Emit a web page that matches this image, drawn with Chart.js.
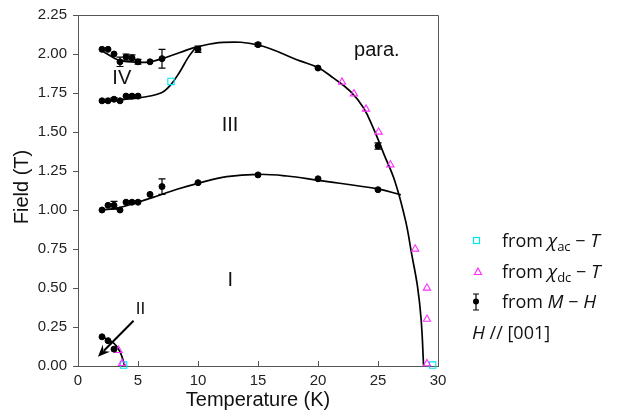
<!DOCTYPE html>
<html><head><meta charset="utf-8">
<script src="https://cdn.jsdelivr.net/npm/chart.js@4/dist/chart.umd.min.js"></script>
<style>html,body{margin:0;padding:0;background:#fff;}canvas{display:block;}</style>
</head><body>
<canvas id="c" width="626" height="416"></canvas>
<script>
// ---- data (Temperature K, Field T) ----
// from M-H (black dots, with error bars)
const mhT   = [2.0, 2.5, 3.0, 3.5, 4.0, 4.5, 5.0, 6.0, 7.0, 10, 15, 20, 25,
               2.0, 2.5, 3.0, 3.5, 4.0, 4.5, 5.0,
               2.0, 2.5, 3.0, 3.5, 4.0, 4.5, 5.0, 6.0, 7.0, 10, 15, 20, 25,
               2.0, 2.5, 3.0];
const mhH   = [2.03, 2.03, 2.00, 1.95, 1.98, 1.975, 1.95, 1.95, 1.97, 2.03, 2.06, 1.91, 1.41,
               1.70, 1.70, 1.71, 1.70, 1.73, 1.73, 1.73,
               1.00, 1.03, 1.03, 1.00, 1.05, 1.05, 1.05, 1.10, 1.15, 1.175, 1.225, 1.20, 1.13,
               0.187, 0.162, 0.108];
const mhErr = [0, 0, 0, 0.03, 0.02, 0.02, 0.015, 0, 0.06, 0.02, 0.01, 0, 0.02,
               0, 0, 0.01, 0, 0, 0, 0,
               0, 0, 0.025, 0, 0, 0, 0, 0, 0.05, 0, 0, 0, 0,
               0, 0, 0];
// from chi_dc - T (magenta triangles)
const dcT = [3.38, 3.67, 22.0, 23.0, 24.0, 25.05, 26.03, 28.1, 29.08, 29.08, 29.08];
const dcH = [0.10, 0.017, 1.82, 1.745, 1.647, 1.50, 1.29, 0.75, 0.50, 0.30, 0.015];
// from chi_ac - T (cyan squares)
const acT = [3.8, 7.75, 29.55];
const acH = [0.006, 1.824, 0.006];
// phase boundaries
const upT = [2.0, 3.0, 3.5, 4.9, 6.0, 7.0, 8.5, 10, 12.1, 15, 18.5, 20, 21.3, 22.7, 23.8, 24.6, 25.5, 26.4, 27.3, 27.8, 28.3, 28.6, 28.8];
const upH = [2.02, 1.975, 1.957, 1.947, 1.95, 1.97, 2.01, 2.047, 2.075, 2.058, 1.956, 1.913, 1.845, 1.76, 1.654, 1.526, 1.357, 1.186, 0.93, 0.72, 0.506, 0.293, 0.0];
const midT = [2.0, 3.25, 4.9, 6.6, 8.25, 10, 12.4, 15, 17.4, 20, 25, 26.9];
const midH = [1.0, 1.012, 1.048, 1.09, 1.133, 1.171, 1.214, 1.229, 1.218, 1.19, 1.135, 1.097];
const lowT = [2.0, 4.9, 6.9, 7.7, 8.5, 9.2, 9.86];
const lowH = [1.70, 1.717, 1.75, 1.80, 1.888, 1.98, 2.047];
const iiT = [2.0, 3.0, 3.5, 3.8, 3.87];
const iiH = [0.187, 0.145, 0.091, 0.027, 0.0];
// arrow pointing into phase II (tail -> head)
const arrowT = [4.63, 1.66];
const arrowH = [0.29, 0.06];
// region labels
const regionText = ['IV', 'III', 'I', 'II', 'para.'];
const regionT = [3.65, 12.67, 12.7, 5.2, 24.9];
const regionH = [1.843, 1.54, 0.548, 0.364, 2.02];
const regionSize = [20, 20, 20, 17, 20];

const pts = (xs, ys) => xs.map((x, i) => ({x: x, y: ys[i]}));
const AXIS = '#555';
const SANS = '"Liberation Sans", Arial, sans-serif';
const CYAN = '#00e4f4';
const MAG = '#ff30ff';

const curve = (xs, ys) => ({
  type: 'scatter', data: pts(xs, ys), showLine: true, tension: 0.4,
  borderColor: '#000', borderWidth: 1.7, pointRadius: 0, order: 5, clip: false
});

const extras = {
  id: 'extras',
  afterDatasetsDraw(chart) {
    const ctx = chart.ctx, xs = chart.scales.x, ys = chart.scales.y, a = chart.chartArea;
    ctx.save();
    // error bars
    ctx.strokeStyle = '#000'; ctx.lineWidth = 1.2;
    mhT.forEach((t, i) => {
      const e = mhErr[i]; if (!e) return;
      const px = xs.getPixelForValue(t);
      const y1 = ys.getPixelForValue(mhH[i] + e), y2 = ys.getPixelForValue(mhH[i] - e);
      ctx.beginPath();
      ctx.moveTo(px, y1); ctx.lineTo(px, y2);
      ctx.moveTo(px - 3.5, y1); ctx.lineTo(px + 3.5, y1);
      ctx.moveTo(px - 3.5, y2); ctx.lineTo(px + 3.5, y2);
      ctx.stroke();
    });
    // arrow
    const ax0 = xs.getPixelForValue(arrowT[0]), ay0 = ys.getPixelForValue(arrowH[0]);
    const ax1 = xs.getPixelForValue(arrowT[1]), ay1 = ys.getPixelForValue(arrowH[1]);
    const ang = Math.atan2(ay1 - ay0, ax1 - ax0);
    const hl = 12, hw = 5;
    const c = Math.cos(ang), s = Math.sin(ang);
    ctx.lineWidth = 2;
    ctx.beginPath(); ctx.moveTo(ax0, ay0);
    ctx.lineTo(ax1 - c * hl * 0.7, ay1 - s * hl * 0.7); ctx.stroke();
    ctx.beginPath();
    ctx.moveTo(ax1, ay1);
    ctx.lineTo(ax1 - c * hl - s * hw, ay1 - s * hl + c * hw);
    ctx.lineTo(ax1 - c * hl * 0.65, ay1 - s * hl * 0.65);
    ctx.lineTo(ax1 - c * hl + s * hw, ay1 - s * hl - c * hw);
    ctx.closePath(); ctx.fillStyle = '#000'; ctx.fill();
    // region labels
    ctx.fillStyle = '#111'; ctx.textAlign = 'center'; ctx.textBaseline = 'middle';
    regionText.forEach((t, i) => {
      ctx.font = regionSize[i] + 'px ' + SANS;
      ctx.fillText(t, xs.getPixelForValue(regionT[i]), ys.getPixelForValue(regionH[i]));
    });
    // box: top and right borders, inward x ticks
    ctx.strokeStyle = AXIS; ctx.lineWidth = 1;
    ctx.beginPath();
    ctx.moveTo(a.left, a.top + 0.5); ctx.lineTo(a.right + 0.5, a.top + 0.5);
    ctx.lineTo(a.right + 0.5, a.bottom);
    xs.ticks.forEach(tk => {
      const px = Math.round(xs.getPixelForValue(tk.value)) + 0.5;
      ctx.moveTo(px, a.bottom); ctx.lineTo(px, a.bottom - 5);
    });
    ctx.stroke();
    // axis titles
    ctx.fillStyle = '#111'; ctx.font = '20px ' + SANS;
    ctx.textAlign = 'center'; ctx.textBaseline = 'middle';
    ctx.fillText('Temperature (K)', (a.left + a.right) / 2, 400);
    ctx.save(); ctx.translate(22, 187); ctx.rotate(-Math.PI / 2);
    ctx.fillText('Field (T)', 0, 0); ctx.restore();
    // legend
    const LF = '"Open Sans", "Noto Sans", sans-serif';
    ctx.textAlign = 'left'; ctx.textBaseline = 'alphabetic'; ctx.fillStyle = '#111';
    const seg = (parts, x, y) => {
      parts.forEach(p => {
        ctx.font = p[1];
        ctx.fillText(p[0], x, y + (p[2] || 0));
        x += ctx.measureText(p[0]).width;
      });
    };
    const R = '18px ' + LF, I = 'italic 19px ' + LF, SUB = '13px ' + LF;
    // square
    ctx.strokeStyle = CYAN; ctx.lineWidth = 1.2;
    ctx.strokeRect(473.5, 237.5, 6, 6);
    seg([['from ', R], ['\u03C7', I], ['ac', SUB, 4], [' \u2212 ', R], ['T', I]], 502, 247);
    // triangle
    ctx.strokeStyle = MAG; ctx.beginPath();
    ctx.moveTo(478, 268); ctx.lineTo(481.5, 274.5); ctx.lineTo(474.5, 274.5); ctx.closePath(); ctx.stroke();
    seg([['from ', R], ['\u03C7', I], ['dc', SUB, 4], [' \u2212 ', R], ['T', I]], 502, 278);
    // error bar dot
    ctx.strokeStyle = '#000'; ctx.lineWidth = 1.2; ctx.beginPath();
    ctx.moveTo(476, 294); ctx.lineTo(476, 310);
    ctx.moveTo(473, 294); ctx.lineTo(479, 294);
    ctx.moveTo(473, 310); ctx.lineTo(479, 310); ctx.stroke();
    ctx.beginPath(); ctx.arc(476, 301.5, 3, 0, Math.PI * 2); ctx.fillStyle = '#000'; ctx.fill();
    ctx.fillStyle = '#111';
    seg([['from ', R], ['M', I], [' \u2212 ', R], ['H', I]], 502, 308);
    seg([['H', I], [' // [001]', R]], 472, 338.5);
    ctx.restore();
  }
};

new Chart(document.getElementById('c'), {
  type: 'scatter',
  data: {
    datasets: [
      { data: pts(mhT, mhH), backgroundColor: '#000', borderColor: '#000', pointRadius: 3, pointHoverRadius: 3, order: 1, clip: false },
      { data: pts(dcT, dcH), pointStyle: 'triangle', pointRadius: 4.2, borderColor: MAG, borderWidth: 1.1, backgroundColor: 'rgba(0,0,0,0)', order: 2, clip: false },
      { data: pts(acT, acH), pointStyle: 'rect', pointRadius: 4.5, borderColor: CYAN, borderWidth: 1.1, backgroundColor: 'rgba(0,0,0,0)', order: 3, clip: false },
      curve(upT, upH), curve(midT, midH), curve(lowT, lowH), curve(iiT, iiH)
    ]
  },
  options: {
    responsive: false, animation: false, events: [],
    layout: { padding: { left: 0, right: 188, top: 13, bottom: 0 } },
    plugins: { legend: { display: false }, tooltip: { enabled: false } },
    scales: {
      x: {
        type: 'linear', min: 0, max: 30,
        ticks: { stepSize: 5, font: { size: 15, family: SANS }, color: '#222', padding: 6, maxRotation: 0 },
        grid: { drawOnChartArea: false, drawTicks: false },
        border: { display: true, color: AXIS, width: 1 },
        afterFit: s => { s.height = 50; }
      },
      y: {
        type: 'linear', min: 0, max: 2.25,
        ticks: { stepSize: 0.25, font: { size: 15, family: SANS }, color: '#222', padding: 6,
                 callback: v => v.toFixed(2) },
        grid: { drawOnChartArea: false, drawTicks: true, tickLength: 5, color: AXIS },
        border: { display: true, color: AXIS, width: 1 },
        afterFit: s => { s.width = 78; }
      }
    }
  },
  plugins: [extras]
});
</script>
</body></html>
